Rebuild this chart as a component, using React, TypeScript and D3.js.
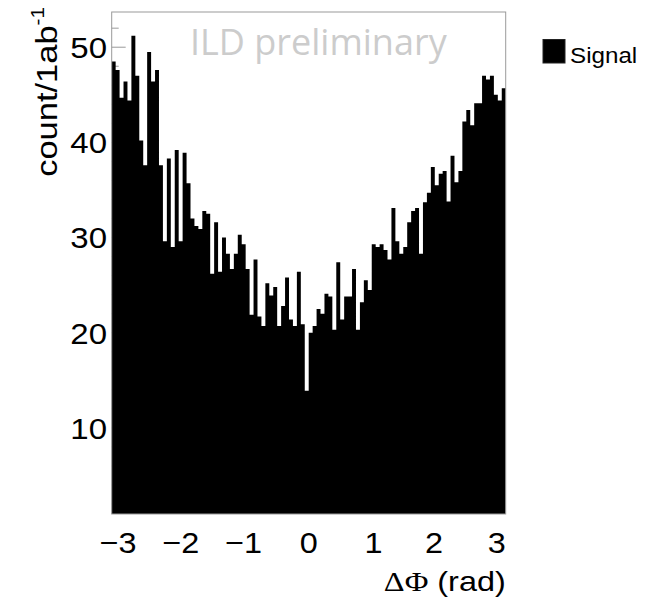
import React from "react";
import * as d3 from "d3";

const binValues: number[] = [
  48.5, 47.6, 44.7, 46.4, 44.4, 51.2, 47.0, 40.2, 37.6, 49.5,
  46.4, 47.6, 37.6, 29.6, 38.3, 29.0, 39.2, 29.6, 38.9, 35.7,
  32.0, 31.2, 30.9, 32.8, 32.5, 26.2, 31.6, 26.4, 30.0, 28.3,
  26.7, 28.3, 30.3, 29.3, 26.7, 21.9, 27.7, 21.7, 20.7, 25.2,
  23.9, 24.8, 20.7, 22.8, 25.8, 21.4, 20.7, 26.4, 20.9, 13.9,
  20.0, 20.7, 22.5, 22.0, 24.1, 23.8, 20.3, 27.4, 21.4, 23.8,
  23.8, 26.7, 20.3, 23.2, 25.5, 24.5, 29.3, 29.0, 29.3, 28.7,
  27.7, 33.1, 29.6, 28.3, 29.0, 31.6, 32.8, 33.1, 28.3, 33.7,
  34.7, 37.4, 35.5, 36.7, 37.0, 33.8, 38.6, 35.8, 37.0, 42.2,
  43.4, 41.8, 44.1, 44.1, 47.0, 46.6, 47.0, 45.0, 44.4, 45.7,
];

const xMajorTicks: number[] = [-3, -2, -1, 0, 1, 2, 3];
const yMajorTicks: number[] = [10, 20, 30, 40, 50];
const yMinorTicks: number[] = d3.range(2, 54, 2);
const xDomain: [number, number] = [-Math.PI, Math.PI];
const yDomain: [number, number] = [0.95, 53.7];
const legendLabel = "Signal";
const watermark = "ILD preliminary";

export default function App() {
  const left = 111.7, right = 505.7, top = 12, bottom = 514;
  const x = d3.scaleLinear().domain(xDomain).range([left, right]);
  const y = d3.scaleLinear().domain(yDomain).range([bottom, top]);
  const n = binValues.length;
  const w = (xDomain[1] - xDomain[0]) / n;
  const pts: [number, number][] = binValues.map((v, i) => [xDomain[0] + i * w, v]);
  pts.push([xDomain[1], binValues[n - 1]]);
  const area = d3
    .area<[number, number]>()
    .x((d) => x(d[0]))
    .y0(bottom)
    .y1((d) => y(d[1]))
    .curve(d3.curveStepAfter);
  const frameColor = "#9a9a9a";
  const fmt = (t: number) => (t < 0 ? "\u2212" + Math.abs(t) : String(t));
  const xOff = (t: number) => (t < 0 ? -2.5 : t === 1 ? 2 : 0);
  return (
    <svg
      width={662}
      height={600}
      style={{ position: "absolute", left: 0, top: 0, background: "#fff" }}
      fontFamily="'Liberation Sans', Arial, sans-serif"
    >
      <rect x={0} y={0} width={662} height={600} fill="#fff" />
      {yMinorTicks.map((t) => (
        <line key={"ym" + t} x1={left} x2={left + (t % 10 === 0 ? 14 : 7)} y1={y(t)} y2={y(t)} stroke={frameColor} strokeWidth={1} />
      ))}
      {xMajorTicks.map((t) => (
        <line key={"xt" + t} x1={x(t)} x2={x(t)} y1={bottom} y2={bottom - 14} stroke={frameColor} strokeWidth={1} />
      ))}
      <path d={area(pts) || ""} fill="#000" />
      <rect x={left} y={top} width={right - left} height={bottom - top} fill="none" stroke={frameColor} strokeWidth={1} />
      {yMajorTicks.map((t) => (
        <text key={"yl" + t} transform={`translate(107,${y(t)}) scale(1.1,1)`} dy="0.36em" textAnchor="end" fontSize={30} fill="#000">
          {t}
        </text>
      ))}
      {xMajorTicks.map((t) => (
        <text key={"xl" + t} transform={`translate(${x(t) + xOff(t)},553) scale(1.08,1)`} textAnchor="middle" fontSize={30} fill="#000">
          {fmt(t)}
        </text>
      ))}
      <text transform={`translate(${right},591) scale(1.2,1)`} textAnchor="end" fontSize={27} fill="#000">
        <tspan fontFamily="'Liberation Serif', 'Times New Roman', serif">ΔΦ</tspan>
        <tspan> (rad)</tspan>
      </text>
      <text transform="translate(57,7) rotate(-90) scale(1.15,1)" textAnchor="end" fontSize={30} fill="#000">
        <tspan>count/1ab</tspan>
        <tspan fontSize={18} dy={-13}>-1</tspan>
      </text>
      <text x={190} y={55} fontSize={36} fill="#cccccc" fontFamily="'Open Sans', Lato, sans-serif">
        {watermark}
      </text>
      <rect x={543} y={39.5} width={22} height={23.5} fill="#000" stroke="#222" strokeWidth={1} />
      <text transform="translate(570,63) scale(1.1,1)" fontSize={22} fill="#000">
        {legendLabel}
      </text>
    </svg>
  );
}
